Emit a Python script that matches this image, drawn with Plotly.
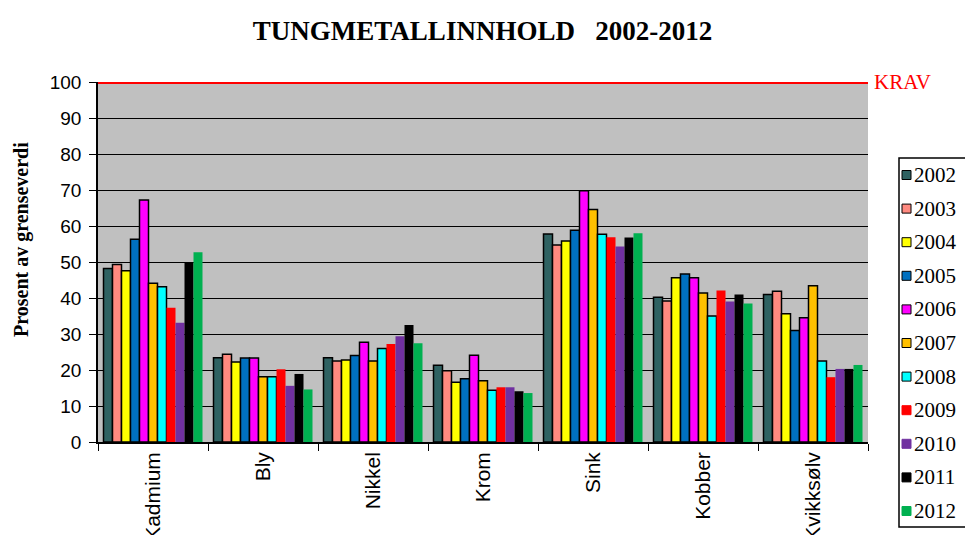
import plotly.graph_objects as go

# Metals on the x axis and the share of the limit value per year (%)
metals = ["Kadmium", "Bly", "Nikkel", "Krom", "Sink", "Kobber", "Kvikksølv"]
years = ["2002", "2003", "2004", "2005", "2006", "2007",
         "2008", "2009", "2010", "2011", "2012"]

v2002 = [48.2, 23.4, 23.4, 21.3, 57.8, 40.2, 41.0]
v2003 = [49.3, 24.4, 22.5, 19.8, 54.7, 39.2, 41.9]
v2004 = [47.6, 22.2, 22.8, 16.6, 55.8, 45.6, 35.6]
v2005 = [56.3, 23.3, 24.0, 17.6, 58.8, 46.7, 31.0]
v2006 = [67.2, 23.3, 27.7, 24.1, 69.8, 45.6, 34.5]
v2007 = [44.1, 18.1, 22.5, 17.0, 64.6, 41.4, 43.4]
v2008 = [43.1, 18.1, 26.0, 14.4, 57.7, 35.0, 22.5]
v2009 = [37.3, 20.2, 27.2, 15.2, 56.9, 42.1, 18.0]
v2010 = [33.1, 15.6, 29.4, 15.2, 54.3, 39.0, 20.3]
v2011 = [49.8, 18.9, 32.5, 14.1, 56.8, 41.0, 20.3]
v2012 = [52.7, 14.6, 27.4, 13.6, 58.0, 38.5, 21.4]

series = [v2002, v2003, v2004, v2005, v2006, v2007,
          v2008, v2009, v2010, v2011, v2012]

krav = 100

colors = ["#2F6262", "#FF8A80", "#FFFF00", "#0070C0", "#FF00FF", "#FFC000",
          "#00FFFF", "#FF0000", "#7030A0", "#000000", "#00B050"]
outlined = [True] * 7 + [False] * 4

W, H = 965, 535
ML, MR, MT, MB = 98, 97, 82, 93
PW, PH = W - ML - MR, H - MT - MB


def px(x):
    """Pixel column -> paper x."""
    return (x - ML) / PW


def py(y):
    """Pixel row -> paper y."""
    return (H - MB - y) / PH


fig = go.Figure()
for year, vals, col, edge in zip(years, series, colors, outlined):
    fig.add_trace(go.Bar(
        x=metals, y=vals, name=year,
        marker=dict(color=col,
                    line=dict(color="#000000" if edge else col,
                              width=1.5 if edge else 0)),
    ))

# Limit line at 100 %
fig.add_shape(type="line", xref="paper", yref="y", x0=0, x1=1,
              y0=krav, y1=krav, line=dict(color="#FF0000", width=4))
fig.add_annotation(text="KRAV", xref="paper", yref="y", x=px(872), y=krav,
                   xanchor="left", yanchor="middle", showarrow=False,
                   font=dict(family="Liberation Serif", size=21, color="#FF0000"))

# Y axis title
fig.add_annotation(text="<b>Prosent av grenseverdi</b>", xref="paper",
                   yref="paper", x=px(21), y=py(240), textangle=-90,
                   xanchor="center", yanchor="middle", showarrow=False,
                   font=dict(family="Liberation Serif", size=20, color="#000000"))

# Legend box drawn at the right edge
fig.add_shape(type="rect", xref="paper", yref="paper",
              x0=px(899), x1=px(990), y0=py(158), y1=py(527),
              line=dict(color="#000000", width=1.5), fillcolor="#FFFFFF",
              layer="above")
row0, step = 175, 33.6
for i, (year, col, edge) in enumerate(zip(years, colors, outlined)):
    yc = row0 + i * step
    fig.add_shape(type="rect", xref="paper", yref="paper",
                  x0=px(902), x1=px(911), y0=py(yc + 4.5), y1=py(yc - 4.5),
                  fillcolor=col,
                  line=dict(color="#000000" if edge else col, width=1),
                  layer="above")
    fig.add_annotation(text=year, xref="paper", yref="paper",
                       x=px(912), y=py(yc), xanchor="left", yanchor="middle",
                       showarrow=False,
                       font=dict(family="Liberation Serif", size=21,
                                 color="#000000"))

fig.update_layout(
    width=W, height=H,
    margin=dict(l=ML, r=MR, t=MT, b=MB, autoexpand=False),
    paper_bgcolor="#FFFFFF",
    plot_bgcolor="#C0C0C0",
    barmode="group", bargap=0.1, bargroupgap=0,
    title=dict(text="TUNGMETALLINNHOLD   2002-2012", x=0.5, xanchor="center",
               y=py(31) * PH / H + MB / H, yanchor="middle",
               font=dict(family="Liberation Serif", size=27, color="#000000",
                         weight="bold")),
    font=dict(family="Liberation Sans", color="#000000"),
    showlegend=False,
    xaxis=dict(showline=True, linecolor="#000000", linewidth=1.5,
               ticks="outside", tickson="boundaries", ticklen=7,
               tickcolor="#000000", tickangle=-90,
               tickfont=dict(family="Liberation Sans", size=21, color="#000000"),
               showgrid=False),
    yaxis=dict(range=[0, 100], dtick=10, showline=True, linecolor="#000000",
               linewidth=1.5, ticks="outside", ticklen=7, tickcolor="#000000",
               ticklabelstandoff=4,
               showgrid=True, gridcolor="#000000", gridwidth=1,
               zeroline=False,
               tickfont=dict(family="Liberation Sans", size=19, color="#000000")),
)

fig.write_html("out.html")
